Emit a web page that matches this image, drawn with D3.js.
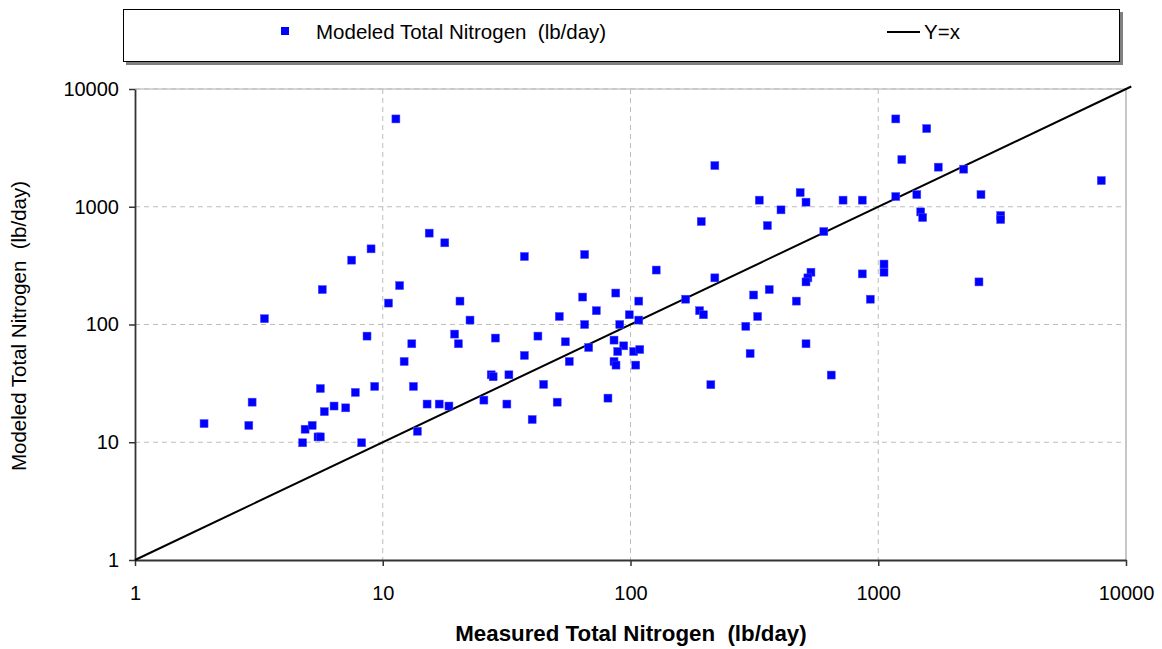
<!DOCTYPE html>
<html>
<head>
<meta charset="utf-8">
<script src="https://cdn.jsdelivr.net/npm/d3@7"></script>
<style>
  html, body { margin: 0; padding: 0; background: #ffffff; }
  svg { display: block; font-family: "Liberation Sans", Arial, sans-serif; }
  text { white-space: pre; }
</style>
</head>
<body>
<svg id="chart" width="1162" height="649"></svg>
<script>
// ---- data ----
const measured = [11.3, 3.33, 5.70, 7.49, 8.97, 10.55, 11.7, 8.64, 1.90, 2.88,
  2.97, 5.60, 9.28, 7.75, 6.36, 7.09, 5.81, 4.86, 5.19, 4.75,
  5.48, 5.60, 8.22, 15.4, 17.8, 37.3, 65.3, 127, 20.5, 22.5,
  51.6, 64.1, 72.8, 87.2, 108, 98.9, 108, 65.3, 90.5, 19.5,
  13.1, 20.2, 28.5, 42.3, 54.6, 85.8, 93.9, 88.8, 103, 109,
  67.8, 12.2, 37.3, 56.6, 85.8, 87.4, 105, 27.4, 27.9, 32.3,
  13.3, 44.6, 25.6, 15.1, 16.9, 18.5, 31.7, 50.6, 81.1, 40.1,
  13.8, 1177, 1569, 1245, 1747, 219, 331, 484, 511, 405,
  721, 862, 1177, 1431, 1484, 1511, 193, 357, 603, 1055,
  1055, 535, 520, 511, 862, 219, 167, 314, 363, 467,
  929, 190, 197, 326, 292, 511, 304, 646, 211, 2213,
  2598, 7950, 3121, 3121, 2550];
const modeled = [5570, 112, 198, 352, 439, 152, 214, 79.7, 14.4, 13.9,
  21.9, 28.6, 29.8, 26.5, 20.3, 19.6, 18.2, 12.9, 13.9, 9.9,
  11.1, 11.1, 9.9, 597, 494, 378, 393, 290, 158, 109,
  117, 171, 131, 185, 158, 121, 109, 100, 100, 82.9,
  68.6, 68.6, 76.7, 79.7, 71.3, 73.7, 65.9, 59.0, 59.0, 61.3,
  63.8, 48.5, 54.6, 48.5, 48.5, 45.2, 45.2, 37.4, 36.0, 37.4,
  29.8, 31.0, 22.8, 21.1, 21.1, 20.3, 21.1, 21.9, 23.7, 15.6,
  12.4, 5570, 4611, 2516, 2169, 2237, 1138, 1320, 1094, 941,
  1138, 1138, 1221, 1269, 905, 810, 749, 692, 616, 326,
  278, 278, 249, 230, 269, 249, 164, 178, 198, 158,
  164, 131, 121, 117, 96.5, 68.6, 56.7, 37.2, 30.8, 2085,
  1269, 1669, 842, 779, 230];
const lineX = [1, 10500];           // Y = x reference line
const tickValues = [1, 10, 100, 1000, 10000];
const seriesName = "Modeled Total Nitrogen  (lb/day)";
const lineName = "Y=x";
const xTitle = "Measured Total Nitrogen  (lb/day)";
const yTitle = "Modeled Total Nitrogen  (lb/day)";

// ---- layout ----
const svg = d3.select("#chart");
const pLeft = 135, pRight = 1126, pTop = 89, pBottom = 560;
const x = d3.scaleLog().domain([1, 10000]).range([pLeft, pRight]);
const y = d3.scaleLog().domain([1, 10000]).range([pBottom, pTop]);

// legend box with shadow
svg.append("rect").attr("x", 126).attr("y", 12).attr("width", 997).attr("height", 53)
  .attr("fill", "#808080");
svg.append("rect").attr("x", 123.5).attr("y", 9.5).attr("width", 996).attr("height", 52)
  .attr("fill", "#ffffff").attr("stroke", "#000000").attr("stroke-width", 1);
svg.append("rect").attr("x", 281).attr("y", 27).attr("width", 8).attr("height", 8)
  .attr("fill", "#0000ff");
svg.append("text").attr("x", 316).attr("y", 32).attr("dy", "0.35em")
  .attr("font-size", 20.5).attr("fill", "#000").text(seriesName);
svg.append("line").attr("x1", 887).attr("x2", 920).attr("y1", 32).attr("y2", 32)
  .attr("stroke", "#000").attr("stroke-width", 2);
svg.append("text").attr("x", 924).attr("y", 32).attr("dy", "0.35em")
  .attr("font-size", 20.5).attr("fill", "#000").text(lineName);

// plot border (top/right) light gray
svg.append("line").attr("x1", pLeft).attr("x2", pRight).attr("y1", pTop).attr("y2", pTop)
  .attr("stroke", "#c8c8c8").attr("stroke-width", 1.5);
svg.append("line").attr("x1", pRight).attr("x2", pRight).attr("y1", pTop).attr("y2", pBottom)
  .attr("stroke", "#b4b4b4").attr("stroke-width", 1.5);

// gridlines
const grid = svg.append("g");
grid.selectAll("line.h").data(tickValues.slice(1)).join("line")
  .attr("x1", pLeft).attr("x2", pRight)
  .attr("y1", d => y(d)).attr("y2", d => y(d))
  .attr("stroke", "#bdbdbd").attr("stroke-width", 1).attr("stroke-dasharray", "5,4");
grid.selectAll("line.v").data(tickValues.slice(1, 4)).join("line")
  .attr("y1", pTop).attr("y2", pBottom)
  .attr("x1", d => x(d)).attr("x2", d => x(d))
  .attr("stroke", "#bdbdbd").attr("stroke-width", 1).attr("stroke-dasharray", "5,4");

// axes
const fmt = d3.format("d");
const xAxis = svg.append("g").attr("transform", `translate(0,${pBottom})`)
  .call(d3.axisBottom(x).tickValues(tickValues).tickFormat(fmt).tickSize(6).tickSizeOuter(0).tickPadding(20));
const yAxis = svg.append("g").attr("transform", `translate(${pLeft},0)`)
  .call(d3.axisLeft(y).tickValues(tickValues).tickFormat(fmt).tickSize(6).tickSizeOuter(0).tickPadding(10));
[xAxis, yAxis].forEach(g => {
  g.select(".domain").attr("stroke", "#333").attr("stroke-width", 1.8);
  g.selectAll(".tick line").attr("stroke", "#333").attr("stroke-width", 1.5);
  g.selectAll(".tick text").attr("font-size", 20).attr("fill", "#000")
    .attr("font-family", "'Liberation Sans', Arial, sans-serif");
});

// Y = x line
svg.append("path")
  .datum(lineX)
  .attr("d", d3.line().x(d => x(d)).y(d => y(d)))
  .attr("stroke", "#000").attr("stroke-width", 2).attr("fill", "none");

// points
const pts = measured.map((m, i) => ({ m, v: modeled[i] }));
svg.append("g").selectAll("rect").data(pts).join("rect")
  .attr("x", d => x(d.m) - 4).attr("y", d => y(d.v) - 4)
  .attr("width", 8).attr("height", 8)
  .attr("fill", "#0000ff").attr("stroke", "#4d4dff").attr("stroke-width", 0.5);

// axis titles
svg.append("text").attr("x", 631).attr("y", 633).attr("dy", "0.35em")
  .attr("text-anchor", "middle").attr("font-size", 22.3).attr("font-weight", "bold")
  .attr("fill", "#000").text(xTitle);
svg.append("text").attr("transform", `translate(19,326) rotate(-90)`)
  .attr("dy", "0.35em").attr("text-anchor", "middle").attr("font-size", 20.5)
  .attr("fill", "#000").text(yTitle);
</script>
</body>
</html>
